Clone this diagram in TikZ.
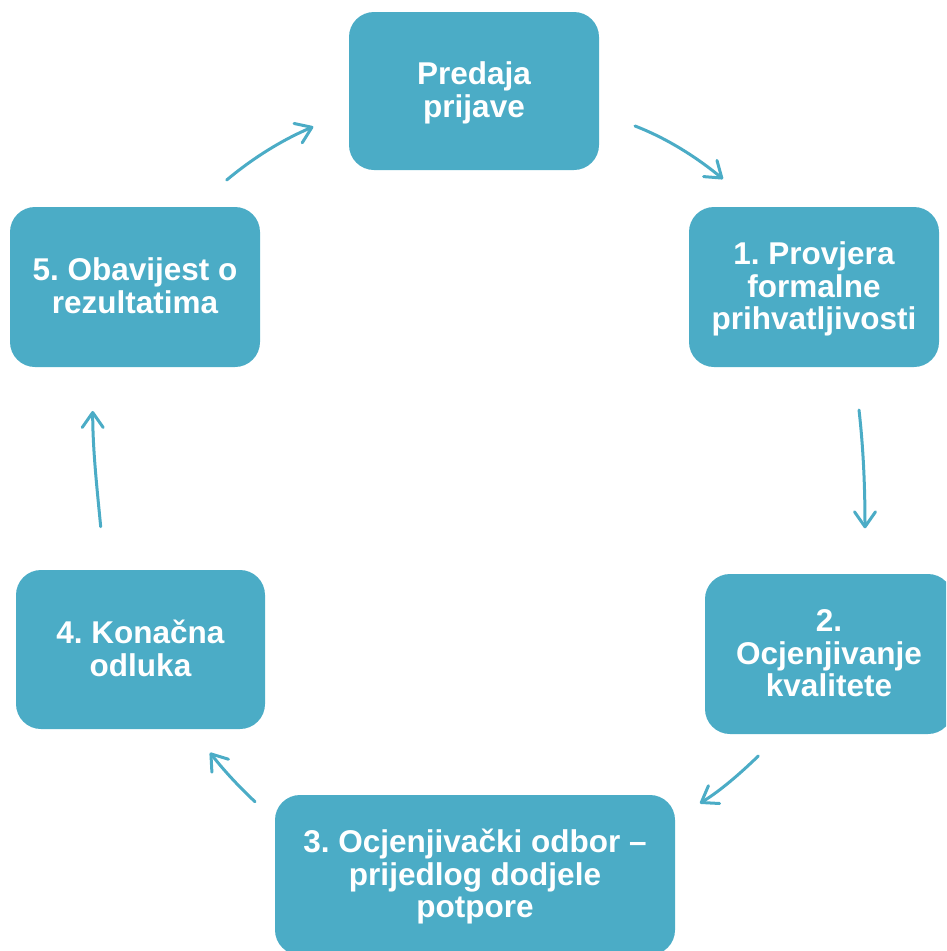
\documentclass[tikz,border=0pt]{standalone}
\usepackage{fontspec}
\setmainfont{Liberation Sans}
\usetikzlibrary{arrows.meta}
\definecolor{teal}{HTML}{4BACC6}
\newcommand{\boxtext}[1]{\raisebox{-3.5pt}[\height][\depth]{\begin{tabular}{@{}c@{}}#1\end{tabular}}}
\tikzset{
  stepbox/.style={rectangle, fill=teal, rounded corners=25pt, minimum width=250pt,
    minimum height=160pt, inner sep=0pt, text=white, align=center,
    font=\fontsize{31.5}{32.5}\selectfont\bfseries},
  cyc/.style={draw=teal, line width=3pt, line cap=round,
    -{Straight Barb[length=15pt,width=21pt,line width=3pt,round]}}
}
\frenchspacing
\begin{document}
\begin{tikzpicture}[x=1pt,y=-1pt]
\useasboundingbox (0,0) rectangle (946,951);
\clip (0,0) rectangle (946,951);
\node[stepbox, minimum height=158pt] (p0) at (474,91) {\boxtext{Predaja\\prijave}};
\node[stepbox] (p1) at (814,287) {\boxtext{1. Provjera\\formalne\\prihvatljivosti}};
\node[stepbox, minimum width=248pt] (p2) at (829,654) {\boxtext{2.\\Ocjenjivanje\\kvalitete}};
\node[stepbox, minimum width=400pt] (p3) at (475,875) {\boxtext{3. Ocjenjivački odbor –\\prijedlog dodjele\\potpore}};
\node[stepbox, minimum width=249pt, minimum height=159pt] (p4) at (140.5,649.5) {\boxtext{4. Konačna\\odluka}};
\node[stepbox] (p5) at (135,287) {\boxtext{5. Obavijest o\\rezultatima}};
% arrow end points
\coordinate (a1s) at (635,126);     \coordinate (a1e) at (723,179);
\coordinate (a2s) at (859,410);     \coordinate (a2e) at (865,528.3);
\coordinate (a3s) at (758.3,756);   \coordinate (a3e) at (700,803.3);
\coordinate (a4s) at (255,801.7);   \coordinate (a4e) at (210,752.7);
\coordinate (a5s) at (100.7,526.7); \coordinate (a5e) at (92.7,411);
\coordinate (a6s) at (226.7,180);   \coordinate (a6e) at (313.3,126.7);
\draw[cyc] (a1s) .. controls (666.9,138.3) and (696.6,157.2) .. (a1e);
\draw[cyc] (a2s) .. controls (863.5,449.2) and (865,488.8) .. (a2e);
\draw[cyc] (a3s) .. controls (740.3,773.4) and (721.2,790.1) .. (a3e);
\draw[cyc] (a4s) .. controls (238.8,786.6) and (223.7,770.2) .. (a4e);
\draw[cyc] (a5s) .. controls (97,488.2) and (92.7,449.7) .. (a5e);
\draw[cyc] (a6s) .. controls (252.7,158.2) and (282.1,139.9) .. (a6e);
\end{tikzpicture}
\end{document}
